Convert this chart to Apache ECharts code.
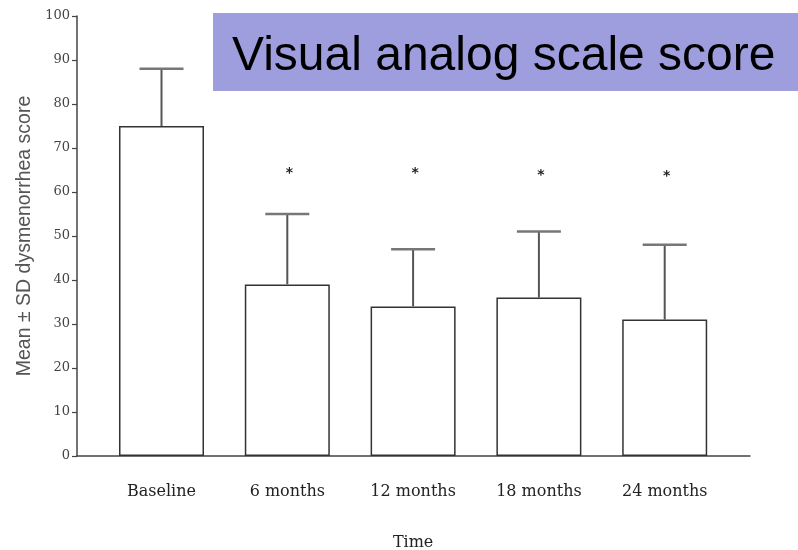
<!DOCTYPE html>
<html>
<head>
<meta charset="utf-8">
<script src="https://cdn.jsdelivr.net/npm/echarts@6/dist/echarts.min.js"></script>
<style>html,body{margin:0;padding:0;background:#fff;}#c{width:798px;height:550px;}</style>
</head>
<body>
<div id="c"></div>
<script>
var categories = ['Baseline', '6 months', '12 months', '18 months', '24 months'];
var means = [75, 39, 34, 36, 31];
var upperSD = [88, 55, 47, 51, 48];
var stars = [null, 65, 65, 64.5, 64.3];
var yTicks = [0, 10, 20, 30, 40, 50, 60, 70, 80, 90, 100];

var chart = echarts.init(document.getElementById('c'));
var serif = 'DejaVu Serif';
var errData = categories.map(function (c, i) { return [i, means[i], upperSD[i]]; });
var starData = [];
stars.forEach(function (s, i) { if (s !== null) starData.push([i, s]); });

chart.setOption({
  animation: false,
  backgroundColor: '#fff',
  graphic: [
    { type: 'rect', left: 213, top: 13, shape: { width: 585, height: 78 }, style: { fill: '#9e9edf' }, z: 0 },
    { type: 'text', left: 232, top: 33, style: { text: 'Visual analog scale score', font: '48px "Liberation Sans", Arial, sans-serif', fill: '#000' }, z: 1 }
  ],
  grid: [
    { left: 98.6, width: 629, top: 16, height: 440, outerBoundsMode: 'none', containLabel: false },
    { left: 77, width: 673, top: 16, height: 440, outerBoundsMode: 'none', containLabel: false }
  ],
  xAxis: [
    { type: 'category', gridIndex: 0, data: categories,
      axisLine: { show: false }, axisTick: { show: false },
      axisLabel: { margin: 28, fontFamily: serif, fontSize: 16, color: '#222' },
      name: 'Time', nameLocation: 'middle', nameGap: 79,
      nameTextStyle: { fontFamily: serif, fontSize: 16, color: '#222' } },
    { type: 'value', gridIndex: 1, min: 0, max: 1,
      axisLine: { show: true, lineStyle: { color: '#444', width: 1.5 } },
      axisTick: { show: false }, axisLabel: { show: false }, splitLine: { show: false } }
  ],
  yAxis: [
    { type: 'value', gridIndex: 0, min: 0, max: 100, interval: 10, show: false },
    { type: 'value', gridIndex: 1, min: 0, max: 100, interval: 10,
      axisLine: { show: true, lineStyle: { color: '#444', width: 1.5 } },
      axisTick: { show: true, length: 5, lineStyle: { color: '#444', width: 1.2 } },
      splitLine: { show: false },
      axisLabel: { margin: 7, fontFamily: serif, fontSize: 13, color: '#444',
        formatter: function (v) { return yTicks.indexOf(v) >= 0 ? String(v) : ''; } },
      name: 'Mean \u00b1 SD dysmenorrhea score', nameLocation: 'middle', nameGap: 37,
      nameTextStyle: { fontFamily: '"Liberation Sans", Arial, sans-serif', fontSize: 19.5, color: '#555' } }
  ],
  series: [
    { type: 'bar', xAxisIndex: 0, yAxisIndex: 0, data: means, barWidth: 85,
      itemStyle: { color: '#fff', borderColor: '#333', borderWidth: 1.5 }, z: 2 },
    { type: 'custom', xAxisIndex: 0, yAxisIndex: 0, data: errData, z: 3,
      renderItem: function (params, api) {
        var p0 = api.coord([api.value(0), api.value(1)]);
        var p1 = api.coord([api.value(0), api.value(2)]);
        var hw = 22;
        return { type: 'group', children: [
          { type: 'line', shape: { x1: p0[0], y1: p0[1], x2: p1[0], y2: p1[1] }, style: { stroke: '#555', lineWidth: 2 } },
          { type: 'line', shape: { x1: p1[0] - hw, y1: p1[1], x2: p1[0] + hw, y2: p1[1] }, style: { stroke: '#777', lineWidth: 2.5 } }
        ] };
      } },
    { type: 'custom', xAxisIndex: 0, yAxisIndex: 0, data: starData, z: 3,
      renderItem: function (params, api) {
        var p = api.coord([api.value(0), api.value(1)]);
        return { type: 'text', x: p[0] + 2, y: p[1] + 3, style: { text: '*', font: 'bold 14px "DejaVu Sans"', fill: '#222', align: 'center', verticalAlign: 'middle' } };
      } }
  ]
});
</script>
</body>
</html>
